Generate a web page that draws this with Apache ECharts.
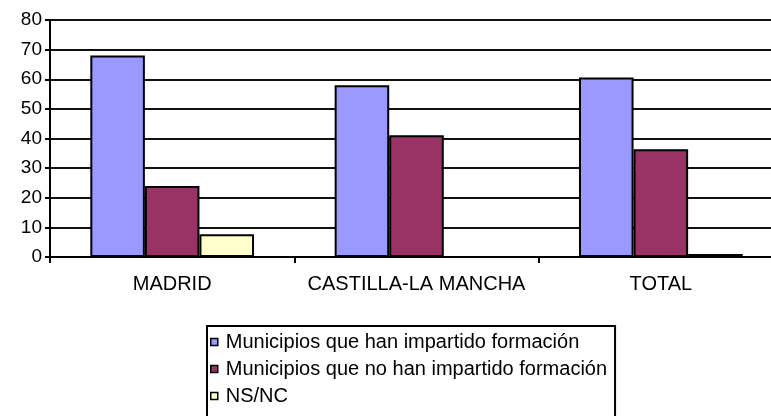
<!DOCTYPE html>
<html lang="es">
<head>
<meta charset="utf-8">
<title>Municipios formación</title>
<script src="https://cdn.jsdelivr.net/npm/echarts@6/dist/echarts.min.js"></script>
<style>
  html, body { margin: 0; padding: 0; background: #fff; }
  #chart { width: 771px; height: 416px; }
</style>
</head>
<body>
<div id="chart"></div>
<script>
// datos
var categories = ['MADRID', 'CASTILLA-LA MANCHA', 'TOTAL'];
var seriesNames = [
  'Municipios que han impartido formación',
  'Municipios que no han impartido formación',
  'NS/NC'
];
var hanImpartido = [68, 58, 60.6];
var noHanImpartido = [24, 41.1, 36.4];
var nsnc = [7.7, 0, 1];
var colors = ['#9999FF', '#993366', '#FFFFCC'];

var chart = echarts.init(document.getElementById('chart'));

function bar(name, data, color) {
  return {
    name: name,
    type: 'bar',
    data: data,
    barGap: '0%',
    barCategoryGap: '33%',
    itemStyle: { color: color, borderColor: '#000', borderWidth: 2 }
  };
}

chart.setOption({
  animation: false,
  textStyle: { fontFamily: 'Liberation Sans, Arial, sans-serif', color: '#000' },
  grid: { left: 50, top: 20, right: -12, bottom: 159, outerBoundsMode: 'none' },
  xAxis: {
    type: 'category',
    data: categories,
    axisLine: { lineStyle: { color: '#000', width: 2 } },
    axisTick: { show: true, interval: 0, length: 6, lineStyle: { color: '#000', width: 2 } },
    axisLabel: { color: '#000', fontSize: 20, margin: 17, interval: 0, hideOverlap: false }
  },
  yAxis: {
    type: 'value',
    min: 0,
    max: 80,
    interval: 10,
    axisLine: { show: true, lineStyle: { color: '#000', width: 2 } },
    axisTick: { show: true, length: 5, lineStyle: { color: '#000', width: 2 } },
    axisLabel: { color: '#000', fontSize: 19, margin: 8 },
    splitLine: { lineStyle: { color: '#111', width: 2 } }
  },
  legend: {
    orient: 'vertical',
    left: 207,
    top: 326,
    height: 120,
    data: seriesNames,
    icon: 'rect',
    itemWidth: 7,
    itemHeight: 7,
    itemGap: 7,
    padding: [6, 8, 20, 3],
    borderColor: '#000',
    borderWidth: 2,
    selectedMode: false,
    itemStyle: { borderColor: '#000', borderWidth: 1.5 },
    textStyle: { color: '#000', fontSize: 20, padding: [0, 0, 0, 3] }
  },
  series: [
    bar(seriesNames[0], hanImpartido, colors[0]),
    bar(seriesNames[1], noHanImpartido, colors[1]),
    bar(seriesNames[2], nsnc, colors[2])
  ]
});
</script>
</body>
</html>
